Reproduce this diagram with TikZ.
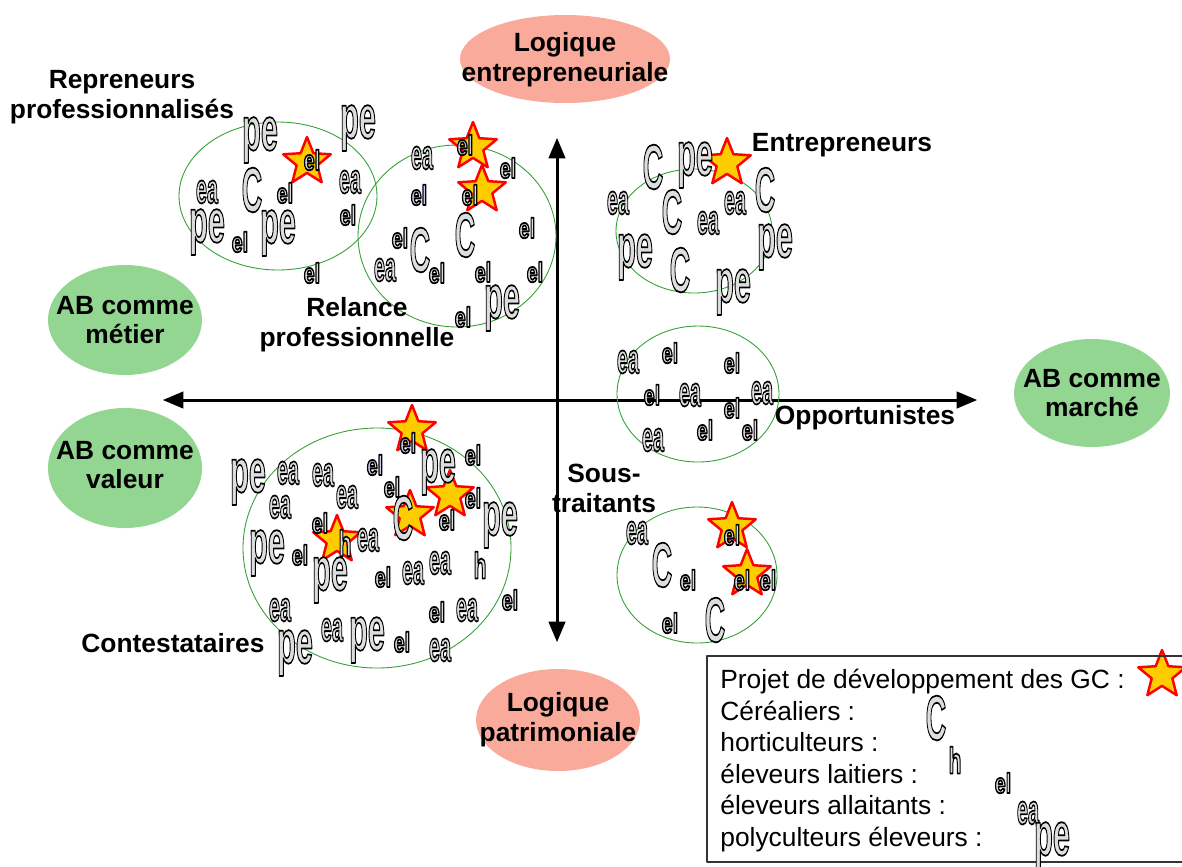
\documentclass[tikz,border=0pt]{standalone}
\usepackage{fontspec}
\setmainfont{Liberation Sans}
\usepackage{graphicx}
\usepackage{tikz}
\usetikzlibrary{shapes,arrows}
\usetikzlibrary{shapes.geometric}
\tikzset{>=triangle 45}

\definecolor{abgreen}{HTML}{92D692}
\definecolor{logsalmon}{HTML}{FAAA9A}
\definecolor{grpgreen}{HTML}{34A034}
\definecolor{starfill}{HTML}{FFCC00}
\definecolor{starred}{HTML}{FF0000}

% outlined glyphs: fill grey, stroke black
\newcommand\gl[4][0.867 g]{\scalebox{#3}[1]{\fontsize{#2}{#2}\selectfont\bfseries
  \special{pdf:literal direct 0 G #1 2 Tr 1 w}#4\special{pdf:literal direct 0 Tr 0 g 0 G}}}
\newcommand\gPE{\gl{35}{0.5}{pe}}
\newcommand\gC{\gl{36}{0.45}{C}}
\newcommand\gEA{\gl{24}{0.47}{ea}}
\newcommand\gEL{\gl{16}{0.7}{el}}
\newcommand\gELb{\gl[0.784 0.784 0.941 rg]{16}{0.7}{el}}
\newcommand\gH{\gl{21}{0.57}{h}}

\tikzset{
  glyph/.style={inner sep=0pt},
  lbl/.style={font=\fontsize{15}{17}\selectfont\bfseries, align=center, inner sep=0pt},
  gstar/.style={star, star points=5, star point ratio=2.3, minimum size=1cm,
    inner sep=0pt, fill=starfill, draw=starred, line width=1.4pt},
  group/.style={draw=grpgreen, line width=0.5pt}
}

\begin{document}
\begin{tikzpicture}[line cap=round,line join=round,x=0.02cm,y=-0.02cm]
	\useasboundingbox (0,0) rectangle (1182,866);

	\fill[logsalmon] (565,59) ellipse [x radius=105, y radius=44];
	\fill[logsalmon] (558,720) ellipse [x radius=82, y radius=51];
	\fill[abgreen] (125,320) ellipse [x radius=77, y radius=55];
	\fill[abgreen] (125,468) ellipse [x radius=77, y radius=60];
	\fill[abgreen] (1092,393) ellipse [x radius=78, y radius=54];
	\node[lbl] (entr) at (565,60) {Logique\\entrepreneuriale};
	\node[lbl] (patr) at (558,720) {Logique\\patrimoniale};
	\node[lbl] (metier) at (125,320) {AB comme\\métier};
	\node[lbl] (valeur) at (125,465) {AB comme\\valeur};
	\node[lbl] (marche) at (1092,393) {AB comme\\marché};

	\coordinate (xl) at (163,400);
	\coordinate (xr) at (977,400);
	\coordinate (yt) at (557,138);
	\coordinate (yb) at (557,642);
	\draw[<->, line width=1.7pt] (xl) -- (xr);
	\draw[<->, line width=1.7pt] (yb) -- (yt);

	\draw[group] (278,196) ellipse [x radius=99, y radius=74];
	\draw[group] (457,236) ellipse [x radius=99, y radius=91];
	\draw[group] (694,231) ellipse [x radius=78, y radius=62];
	\draw[group] (698,394) ellipse [x radius=81, y radius=68];
	\draw[group] (697,575) ellipse [x radius=80, y radius=68];
	\draw[group] (377,548) ellipse [x radius=134, y radius=120];

	\node[lbl] (repr) at (122,97) {Repreneurs\\professionnalisés};
	\node[lbl] (rel) at (357,325) {Relance\\professionnelle};
	\node[lbl] (ent) at (842,145) {Entrepreneurs};
	\node[lbl] (opp) at (865,418) {Opportunistes};
	\node[lbl] (sous) at (604,488) {Sous-\\traitants};
	\node[lbl] (cont) at (173,643) {Contestataires};

	\foreach \x/\y [count=\i] in {307/162, 473/147, 482/190, 727/163, 412/430, 450/495,
		410/515, 337/540, 732/527, 747/574, 1162/675}
		\node[gstar] (st\i) at (\x,\y) {};

	\foreach \x/\y/\g [count=\i] in {260/140/\gPE, 358/128/\gPE, 312/160/\gEL, 207/192/\gEA,
		252/190/\gC, 285/193/\gEL, 350/182/\gEA, 348/215/\gEL, 207/232/\gPE, 240/242/\gEL,
		278/233/\gPE, 312/273/\gEL}
		\node[glyph] (rp\i) at (\x,\y) {\g};

	\foreach \x/\y/\g [count=\i] in {422/158/\gEA, 465/145/\gELb, 508/168/\gEL, 419/195/\gELb,
		470/195/\gEL, 420/250/\gC, 400/238/\gEL, 465/235/\gC, 527/228/\gEL, 385/270/\gEA,
		437/273/\gEL, 483/272/\gEL, 535/272/\gEL, 463/317/\gEL, 502/308/\gPE}
		\node[glyph] (rl\i) at (\x,\y) {\g};

	\foreach \x/\y/\g [count=\i] in {653/167/\gC, 695/165/\gPE, 618/203/\gEA, 672/212/\gC,
		735/203/\gEA, 765/190/\gC, 708/223/\gEA, 635/257/\gPE, 680/270/\gC, 775/247/\gPE,
		733/292/\gPE}
		\node[glyph] (en\i) at (\x,\y) {\g};

	\foreach \x/\y/\g [count=\i] in {628/362/\gEA, 670/353/\gEL, 732/363/\gEL, 652/395/\gEL,
		690/395/\gEA, 732/408/\gEL, 762/393/\gEA, 653/440/\gEA, 705/430/\gEL, 750/430/\gEL}
		\node[glyph] (op\i) at (\x,\y) {\g};

	\foreach \x/\y/\g [count=\i] in {637/533/\gEA, 732/535/\gEL, 662/565/\gC, 688/580/\gEL,
		742/580/\gEL, 768/580/\gEL, 670/623/\gEL, 715/620/\gC}
		\node[glyph] (so\i) at (\x,\y) {\g};

	\foreach \x/\y/\g [count=\i] in {408/443/\gELb, 248/482/\gPE, 288/473/\gEA, 323/475/\gEA,
		375/465/\gELb, 438/472/\gPE, 473/455/\gEL, 280/507/\gEA, 347/497/\gEA, 392/487/\gEL,
		473/498/\gEL, 403/518/\gC, 447/520/\gEL, 500/525/\gPE, 320/523/\gEL, 345/543/\gH,
		368/540/\gEA, 267/553/\gPE, 300/555/\gEL, 330/580/\gPE, 383/577/\gEL, 413/573/\gEA,
		440/563/\gEA, 480/565/\gH, 510/600/\gEL, 280/610/\gEA, 437/612/\gEL, 467/610/\gEA,
		295/653/\gPE, 332/630/\gEA, 367/640/\gPE, 402/642/\gEL, 440/650/\gEA}
		\node[glyph] (co\i) at (\x,\y) {\g};

	\draw[line width=0.6pt, draw=black!80] (707,656) rectangle (1200,862);
	\node[anchor=north west, align=left, inner sep=0pt, font=\fontsize{15}{17.9}\selectfont] (leg) at (720,669)
		{Projet de développement des GC :\\Céréaliers :\\horticulteurs :\\éleveurs laitiers :\\éleveurs allaitants :\\polyculteurs éleveurs :};
	\node[glyph] (lgc) at (936,718) {\gC};
	\node[glyph] (lgh) at (955,760) {\gH};
	\node[glyph] (lgel) at (1003,783) {\gEL};
	\node[glyph] (lgea) at (1028,813) {\gEA};
	\node[glyph] (lgpe) at (1052,845) {\gPE};
\end{tikzpicture}
\end{document}
